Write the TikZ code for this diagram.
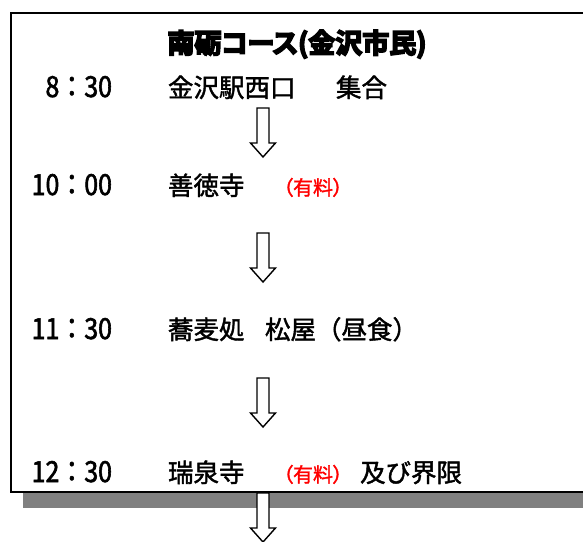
\documentclass[tikz,border=0pt]{standalone}
\usepackage{fontspec}
\setmainfont{Noto Sans CJK JP}
\newfontfamily\mainjp{Noto Sans CJK JP}[FakeBold=1.6]
\newfontfamily\feefont{Noto Sans CJK JP}[RawFeature=+palt,FakeBold=1.6]
\newfontfamily\timefont{Noto Sans CJK JP}[FakeStretch=0.86,FakeBold=2]
\newfontfamily\titlefont{Noto Sans CJK JP Bold}[RawFeature=+palt,FakeBold=6]
\definecolor{shadowgray}{RGB}{128,128,128}
\definecolor{feered}{RGB}{255,0,0}
\tikzset{
  txt/.style={inner sep=0pt,outer sep=0pt,anchor=base west,font=\mainjp\fontsize{25.5}{25.5}\selectfont},
  timetxt/.style={inner sep=0pt,outer sep=0pt,anchor=base east,font=\timefont\fontsize{29}{29}\selectfont},
  fee/.style={inner sep=0pt,outer sep=0pt,anchor=base west,text=feered,font=\feefont\fontsize{20}{20}\selectfont},
  titletxt/.style={inner sep=0pt,outer sep=0pt,anchor=base,font=\titlefont\fontsize{27}{27}\selectfont},
  arrowline/.style={draw=black,fill=white,line width=1.4pt,line join=miter},
  frame/.style={draw=black,fill=white,line width=2pt},
}
\newcommand\blockarrow[1]{%
  \draw[arrowline] (#1) ++(-6,0) -- ++(0,35) -- ++(-6.5,0) -- ++(12.5,14)
    -- ++(12.5,-14) -- ++(-6.5,0) -- ++(0,-35) -- cycle;}
\begin{document}
\begin{tikzpicture}[x=1pt,y=-1pt]
\useasboundingbox (0,0) rectangle (583,541);
% shadow and frame
\fill[shadowgray] (23,492) rectangle (600,508);
\draw[frame] (11,12.5) rectangle (600,491.5);
% title
\node[titletxt] (title) at (297,53) {南砺コース(金沢市民)};
% line 1
\node[timetxt] (t1) at (112,97) {8：30};
\node[txt] (p1a) at (168,97) {金沢駅西口};
\node[txt] (p1b) at (336,97) {集合};
% line 2
\node[timetxt] (t2) at (112,195) {10：00};
\node[txt] (p2) at (168,195) {善徳寺};
\node[fee] (f2) at (283,195) {（有料）};
% line 3
\node[timetxt] (t3) at (112,339) {11：30};
\node[txt] (p3a) at (168,339) {蕎麦処};
\node[txt] (p3b) at (265,339) {松屋（昼食）};
% line 4
\node[timetxt] (t4) at (112,482) {12：30};
\node[txt] (p4a) at (168,482) {瑞泉寺};
\node[fee] (f4) at (283,482) {（有料）};
\node[txt] (p4b) at (360,482) {及び界限};
% arrows
\coordinate (a1) at (263,108);
\coordinate (a2) at (263,233);
\coordinate (a3) at (263,378);
\coordinate (a4) at (263,493);
\blockarrow{a1}
\blockarrow{a2}
\blockarrow{a3}
\blockarrow{a4}
\end{tikzpicture}
\end{document}
